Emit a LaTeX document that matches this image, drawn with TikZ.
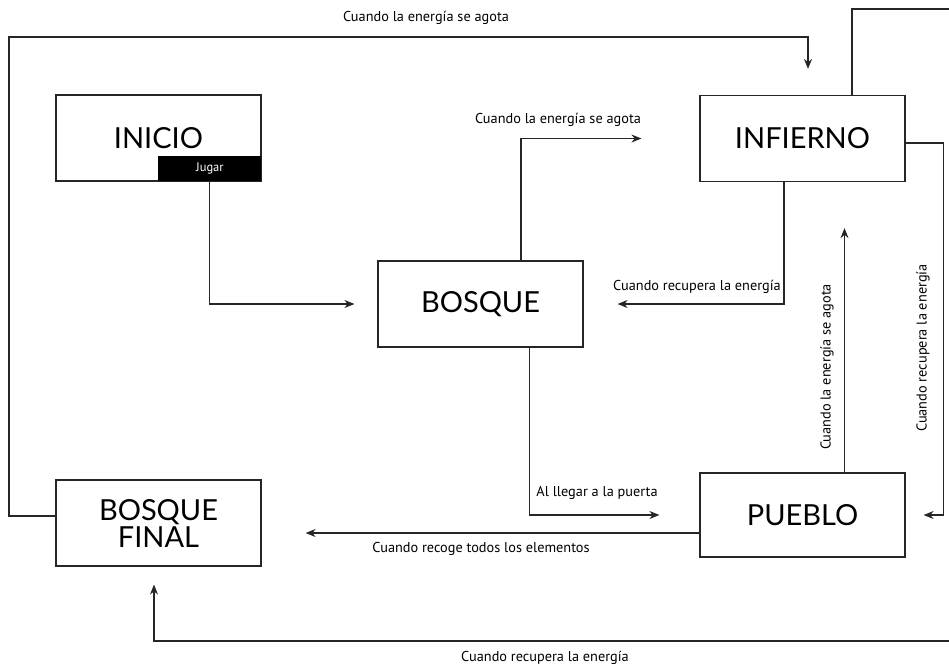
\documentclass[tikz,border=0pt]{standalone}
\usepackage{fontspec}
\setmainfont{PT Sans}
\newfontfamily\boxfont{Lato}
\usepackage{tikz}
\usetikzlibrary{arrows.meta,positioning}

\begin{document}
\begin{tikzpicture}[
    x=1pt, y=-1pt,
    box/.style={rectangle, draw=black!85, line width=1.2pt, minimum width=205pt, minimum height=86pt, align=center, font=\boxfont\fontsize{29}{27}\selectfont},
    playbtn/.style={rectangle, fill=black, text=white, minimum width=103pt, minimum height=25pt, inner sep=0pt, font=\fontsize{12.5}{14}\selectfont},
    arrow/.style={-{Stealth[length=10pt,width=8pt]}, line width=1.1pt, draw=black!85},
    lbl/.style={font=\fontsize{14.3}{16}\selectfont, inner sep=0pt}
]
\useasboundingbox (0,0) rectangle (949,665);
\clip (0,0) rectangle (949,665);

% States
\node[box] (inicio) at (158.5,138) {INICIO};
\node[playbtn, anchor=south east] (jugar) at (inicio.south east) {Jugar};
\node[box] (infierno) at (802.5,138.5) {INFIERNO};
\node[box] (bosque) at (480.5,304) {BOSQUE};
\node[box] (bosquefinal) at (158.5,523) {BOSQUE\\FINAL};
\node[box, minimum height=84pt] (pueblo) at (802.5,515) {PUEBLO};

% Arrows
\draw[arrow, shorten >=26pt] ([yshift=7pt]bosquefinal.west) -| (9,37) -| ([xshift=5.5pt]infierno.north);
\draw[arrow, shorten >=23pt] (jugar.south) |- (bosque.west);
\draw[arrow, shorten >=58pt] ([xshift=40.5pt]bosque.north) |- (infierno.west);
\draw[arrow, shorten >=34pt] ([xshift=-18.5pt]infierno.south) |- (bosque.east);
\draw[arrow, shorten >=40pt] ([xshift=49pt]bosque.south) |- (pueblo.west);
\draw[arrow, shorten >=44pt] ([yshift=-18pt]pueblo.west) coordinate (recoge) -- (bosquefinal.east |- recoge);
\draw[arrow, shorten >=46pt] ([xshift=42pt]pueblo.north) -- ([xshift=42pt]infierno.south);
\draw[arrow, shorten >=18pt] ([yshift=-4.5pt]infierno.east) -- ++(38,0) |- (pueblo.east);
\draw[arrow, shorten >=18pt] ([xshift=49.5pt]infierno.north) |- (960,9) -- (960,641) -| ([xshift=-4.5pt]bosquefinal.south);

% Labels
\node[lbl] (l1) at (426,18) {Cuando la energía se agota};
\node[lbl] (l2) at (558,120) {Cuando la energía se agota};
\node[lbl] (l3) at (697,287) {Cuando recupera la energía};
\node[lbl] (l4) at (597,493) {Al llegar a la puerta};
\node[lbl] (l5) at (481,549) {Cuando recoge todos los elementos};
\node[lbl, rotate=90] (l6) at (827,367) {Cuando la energía se agota};
\node[lbl, rotate=90] (l7) at (923,348) {Cuando recupera la energía};
\node[lbl] (l8) at (545,658) {Cuando recupera la energía};

\end{tikzpicture}
\end{document}
